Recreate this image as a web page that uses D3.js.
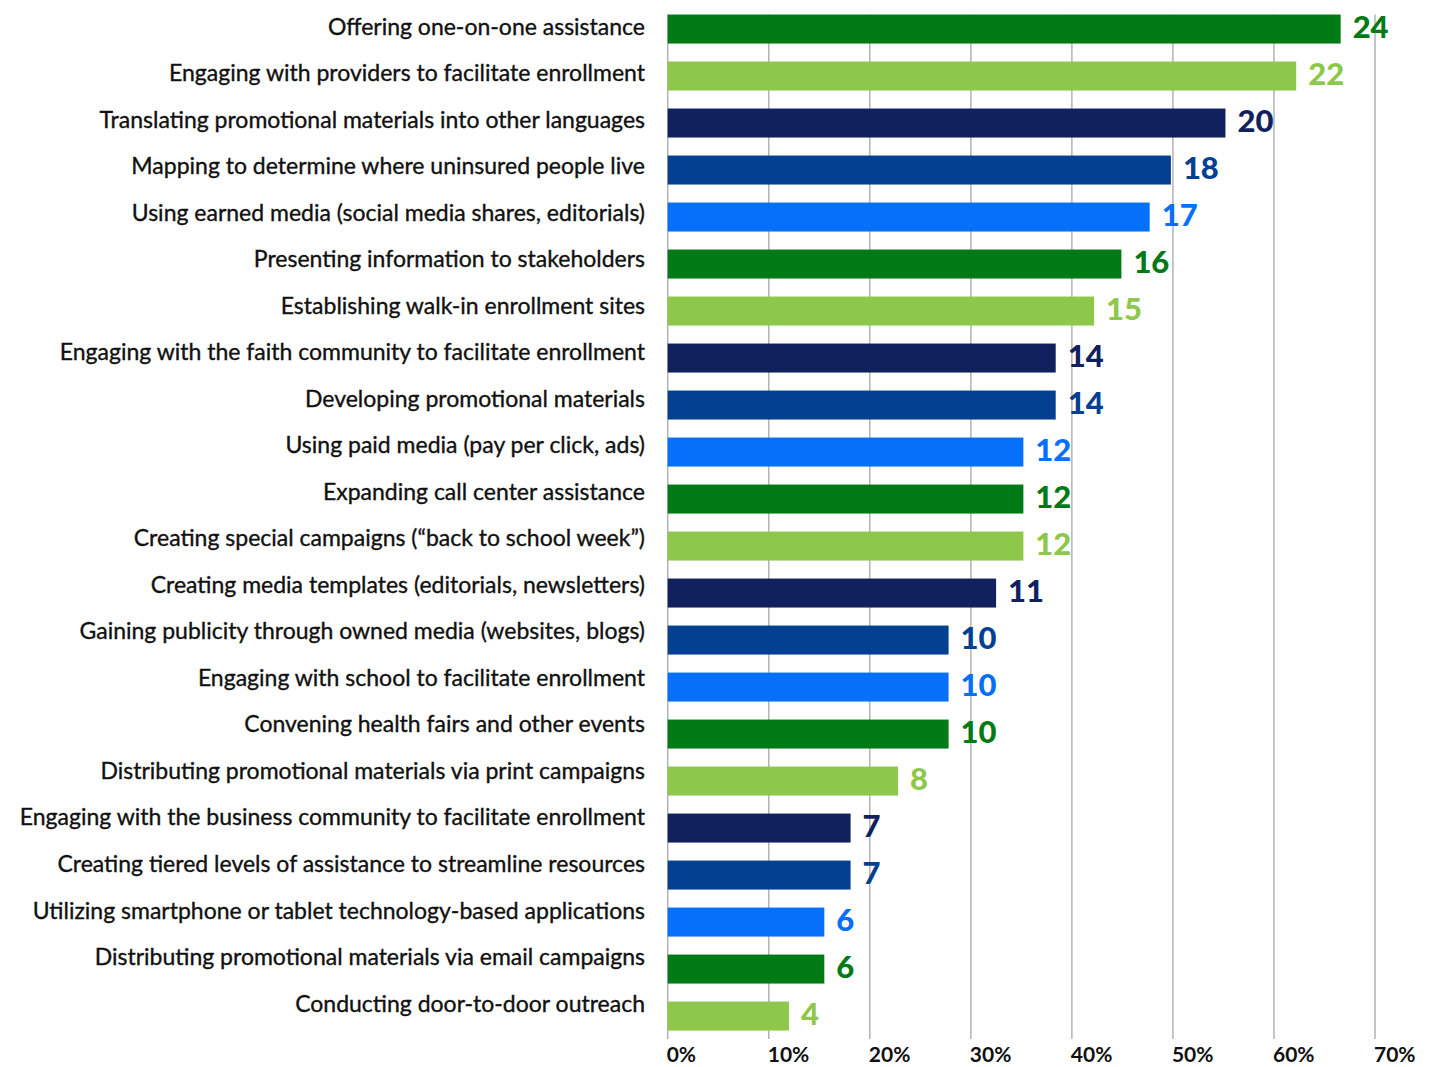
<!DOCTYPE html>
<html>
<head>
<meta charset="utf-8">
<script src="https://cdn.jsdelivr.net/npm/d3@7"></script>
<style>
  html, body { margin: 0; padding: 0; background: #fff; }
  svg { display: block; }
</style>
</head>
<body>
<svg id="chart" width="1432" height="1067"></svg>
<script>
// Outreach activities, number of respondents and share of respondents
const categories = [
  "Offering one-on-one assistance",
  "Engaging with providers to facilitate enrollment",
  "Translating promotional materials into other languages",
  "Mapping to determine where uninsured people live",
  "Using earned media (social media shares, editorials)",
  "Presenting information to stakeholders",
  "Establishing walk-in enrollment sites",
  "Engaging with the faith community to facilitate enrollment",
  "Developing promotional materials",
  "Using paid media (pay per click, ads)",
  "Expanding call center assistance",
  "Creating special campaigns (\u201cback to school week\u201d)",
  "Creating media templates (editorials, newsletters)",
  "Gaining publicity through owned media (websites, blogs)",
  "Engaging with school to facilitate enrollment",
  "Convening health fairs and other events",
  "Distributing promotional materials via print campaigns",
  "Engaging with the business community to facilitate enrollment",
  "Creating tiered levels of assistance to streamline resources",
  "Utilizing smartphone or tablet technology-based applications",
  "Distributing promotional materials via email campaigns",
  "Conducting door-to-door outreach"
];
const counts = [24, 22, 20, 18, 17, 16, 15, 14, 14, 12, 12, 12, 11, 10, 10, 10, 8, 7, 7, 6, 6, 4];
const percents = [66.6, 62.2, 55.2, 49.8, 47.7, 44.9, 42.2, 38.4, 38.4, 35.2, 35.2, 35.2,
                  32.5, 27.8, 27.8, 27.8, 22.8, 18.1, 18.1, 15.5, 15.5, 12.0];
const palette = ["#007A14", "#8DC84A", "#10215E", "#034091", "#0670FA"];
const tickValues = [0, 10, 20, 30, 40, 50, 60, 70];

const svg = d3.select("#chart");
const font = "Lato, 'Open Sans', sans-serif";

const x = d3.scaleLinear().domain([0, 70]).range([667.7, 1375]);
const y = d3.scaleBand().domain(d3.range(categories.length))
  .range([5.6, 1039.5]).paddingInner(0.383).paddingOuter(0.19);
const yLabel = d3.scalePoint().domain(d3.range(categories.length)).range([26.6, 1003.5]);

const plotTop = y(0);
const plotBottom = 1039;

// vertical gridlines
svg.append("g").selectAll("line").data(tickValues).join("line")
  .attr("x1", d => x(d)).attr("x2", d => x(d))
  .attr("y1", plotTop).attr("y2", plotBottom)
  .attr("stroke", "#b3b3b3").attr("stroke-width", 1.5);

// bars
svg.append("g").selectAll("rect").data(percents).join("rect")
  .attr("x", x(0))
  .attr("y", (d, i) => y(i))
  .attr("width", d => x(d) - x(0))
  .attr("height", y.bandwidth())
  .attr("fill", (d, i) => palette[i % palette.length]);

// count labels at bar ends
svg.append("g").selectAll("text").data(counts).join("text")
  .attr("x", (d, i) => x(percents[i]) + 12)
  .attr("y", (d, i) => y(i) + y.bandwidth() / 2 - 2)
  .attr("dy", "0.36em")
  .attr("fill", (d, i) => palette[i % palette.length])
  .style("font-family", font).style("font-weight", 900).style("font-size", "31px")
  .text(d => d);

// category labels
svg.append("g").selectAll("text").data(categories).join("text")
  .attr("x", 645)
  .attr("y", (d, i) => yLabel(i))
  .attr("dy", "0.35em")
  .attr("text-anchor", "end")
  .attr("fill", "#111")
  .attr("stroke", "#111").attr("stroke-width", 0.35)
  .style("font-family", font).style("font-size", "23px")
  .text(d => d);

// x axis tick labels
svg.append("g").selectAll("text").data(tickValues).join("text")
  .attr("x", d => x(d) - 1)
  .attr("y", 1062)
  .attr("fill", "#111")
  .style("font-family", font).style("font-weight", 700).style("font-size", "21px")
  .text(d => d + "%");
</script>
</body>
</html>
